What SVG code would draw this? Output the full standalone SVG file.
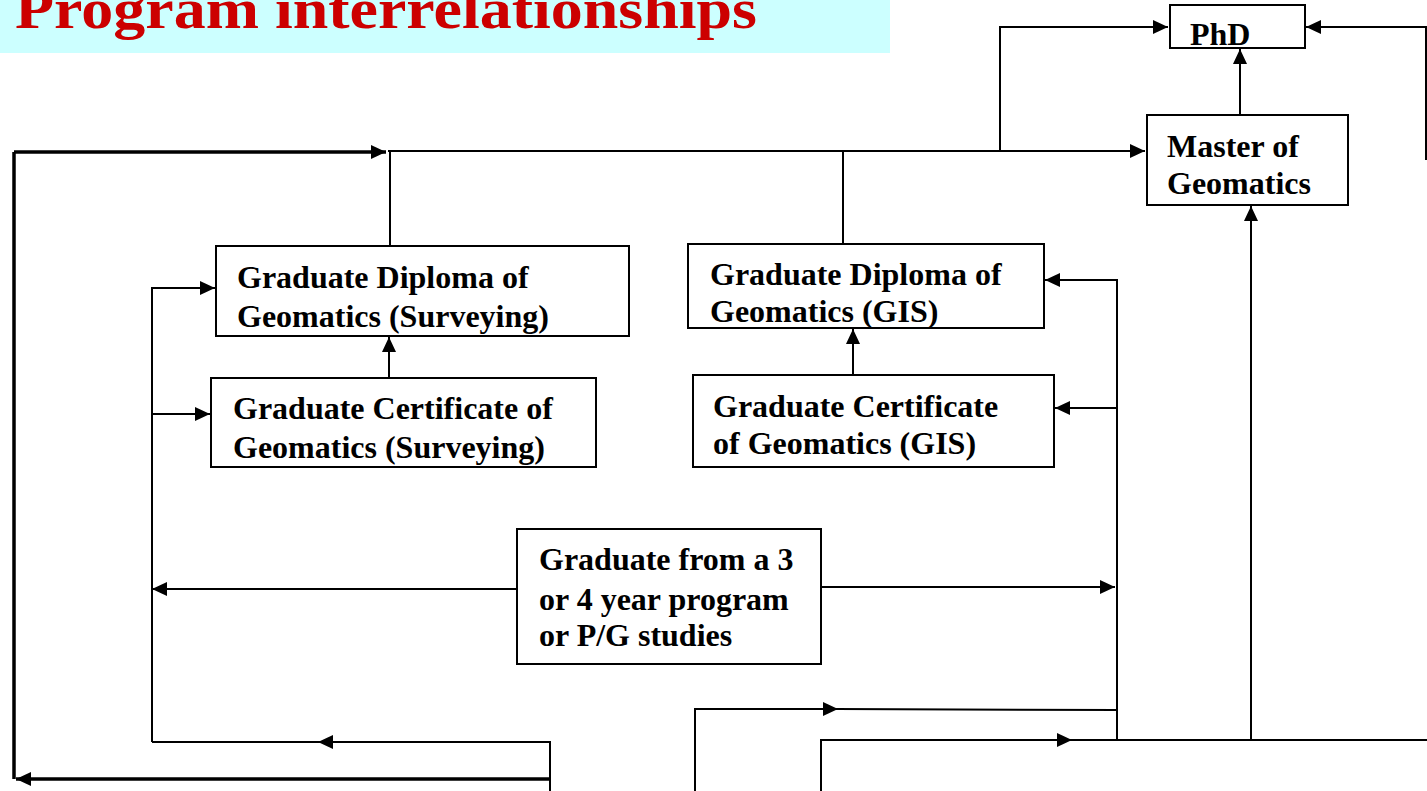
<svg xmlns="http://www.w3.org/2000/svg" width="1427" height="791" viewBox="0 0 1427 791">
<defs>
<style>
.box{fill:#fff;stroke:#000;stroke-width:2}
.t{font-family:"Liberation Serif","Times New Roman",serif;font-weight:bold;font-size:32px;fill:#000}
.c{fill:none;stroke:#000;stroke-width:2}
.k{fill:none;stroke:#000;stroke-width:3.5}
</style>
<marker id="a" markerUnits="userSpaceOnUse" markerWidth="16" markerHeight="14" refX="15" refY="7" orient="auto">
<path d="M0,0 L15,7 L0,14 Z" fill="#000"/>
</marker>
</defs>
<rect x="0" y="0" width="890" height="53" fill="#CCFFFF"/>
<text x="15" y="28" font-family="'Liberation Serif','Times New Roman',serif" font-weight="bold" font-size="58" fill="#CC0000" textLength="742" lengthAdjust="spacingAndGlyphs">Program interrelationships</text>

<g id="connectors">
<path class="k" d="M14,152 L386,152" marker-end="url(#a)"/>
<path class="k" d="M14,152 L14,779"/>
<path class="k" d="M550,779 L16,779" marker-end="url(#a)"/>
<path class="c" d="M388,151 L1145,151" marker-end="url(#a)"/>
<path class="c" d="M390,151 L390,246"/>
<path class="c" d="M843,151 L843,244"/>
<path class="c" d="M1000,151 L1000,27 L1168,27" marker-end="url(#a)"/>
<path class="c" d="M1426,160 L1426,27 L1306,27" marker-end="url(#a)"/>
<path class="c" d="M1240,115 L1240,49" marker-end="url(#a)"/>
<path class="c" d="M1251,740 L1251,206" marker-end="url(#a)"/>
<path class="c" d="M821,791 L821,740 L1072,740" marker-end="url(#a)"/>
<path class="c" d="M1070,740 L1427,740"/>
<path class="c" d="M695,791 L695,709 L838,709" marker-end="url(#a)"/>
<path class="c" d="M836,709 L1117,710"/>
<path class="c" d="M1117,740 L1117,280 L1045,280" marker-end="url(#a)"/>
<path class="c" d="M1117,408 L1055,408" marker-end="url(#a)"/>
<path class="c" d="M821,587 L1115,587" marker-end="url(#a)"/>
<path class="c" d="M152,742 L152,288 L215,288" marker-end="url(#a)"/>
<path class="c" d="M152,414 L210,414" marker-end="url(#a)"/>
<path class="c" d="M517,589 L152,589" marker-end="url(#a)"/>
<path class="c" d="M550,791 L550,742 L318,742" marker-end="url(#a)"/>
<path class="c" d="M320,742 L152,742"/>
<path class="c" d="M389,378 L389,337" marker-end="url(#a)"/>
<path class="c" d="M853,375 L853,329" marker-end="url(#a)"/>
</g>

<g id="phd">
<rect class="box" x="1170" y="5" width="135" height="43"/>
<text class="t" x="1190" y="45">PhD</text>
</g>
<g id="master">
<rect class="box" x="1147" y="115" width="201" height="90"/>
<text class="t" x="1167" y="157">Master of</text>
<text class="t" x="1167" y="194">Geomatics</text>
</g>
<g id="diploma-surveying">
<rect class="box" x="216" y="246" width="413" height="90"/>
<text class="t" x="237" y="288">Graduate Diploma of</text>
<text class="t" x="237" y="327">Geomatics (Surveying)</text>
</g>
<g id="certificate-surveying">
<rect class="box" x="211" y="378" width="385" height="89"/>
<text class="t" x="233" y="419">Graduate Certificate of</text>
<text class="t" x="233" y="458">Geomatics (Surveying)</text>
</g>
<g id="diploma-gis">
<rect class="box" x="688" y="244" width="356" height="84"/>
<text class="t" x="710" y="285">Graduate Diploma of</text>
<text class="t" x="710" y="322">Geomatics (GIS)</text>
</g>
<g id="certificate-gis">
<rect class="box" x="693" y="375" width="361" height="92"/>
<text class="t" x="713" y="417">Graduate Certificate</text>
<text class="t" x="713" y="454">of Geomatics (GIS)</text>
</g>
<g id="graduate">
<rect class="box" x="517" y="529" width="304" height="135"/>
<text class="t" x="539" y="570">Graduate from a 3</text>
<text class="t" x="539" y="610">or 4 year program</text>
<text class="t" x="539" y="646">or P/G studies</text>
</g>
</svg>
